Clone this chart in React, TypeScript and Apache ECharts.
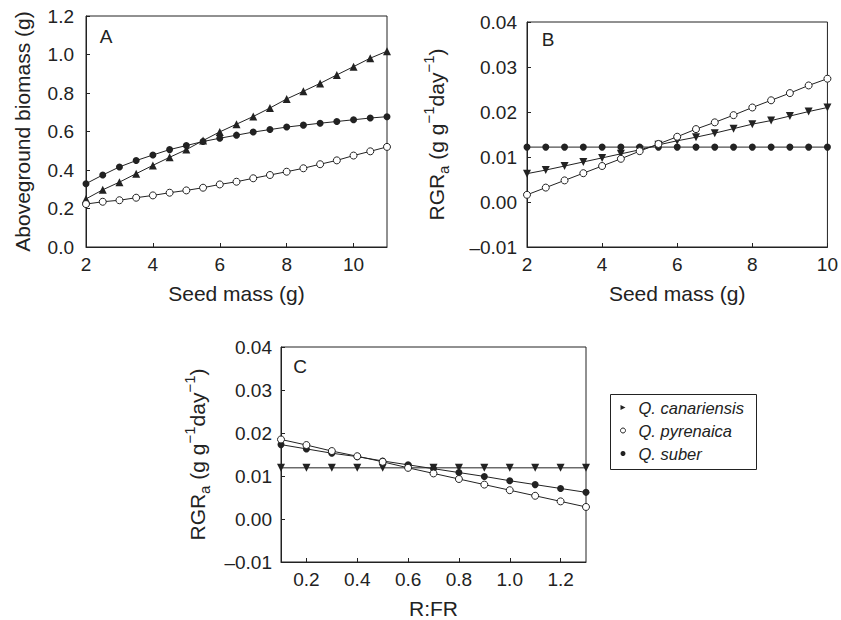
import React, { useEffect, useRef } from "react";
import * as echarts from "echarts";

// Panel A: aboveground biomass vs seed mass
const seedMassA = [2, 2.5, 3, 3.5, 4, 4.5, 5, 5.5, 6, 6.5, 7, 7.5, 8, 8.5, 9, 9.5, 10, 10.5, 11];
const biomassCanariensis = [0.25, 0.297, 0.337, 0.381, 0.424, 0.466, 0.506, 0.553, 0.598, 0.638, 0.678, 0.722, 0.769, 0.809, 0.85, 0.894, 0.937, 0.981, 1.017];
const biomassSuber = [0.329, 0.374, 0.416, 0.449, 0.478, 0.506, 0.527, 0.548, 0.565, 0.581, 0.597, 0.61, 0.623, 0.633, 0.643, 0.652, 0.661, 0.67, 0.677];
const biomassPyrenaica = [0.223, 0.235, 0.243, 0.256, 0.268, 0.282, 0.294, 0.308, 0.325, 0.339, 0.357, 0.374, 0.391, 0.409, 0.43, 0.45, 0.475, 0.497, 0.52];

// Panel B: RGRa vs seed mass
const seedMassB = [2, 2.5, 3, 3.5, 4, 4.5, 5, 5.5, 6, 6.5, 7, 7.5, 8, 8.5, 9, 9.5, 10];
const rgrSeedCanariensis = [0.0063, 0.0071, 0.008, 0.0089, 0.0098, 0.0107, 0.0116, 0.0127, 0.0136, 0.0144, 0.0153, 0.0163, 0.0173, 0.0181, 0.0191, 0.0201, 0.021];
const rgrSeedPyrenaica = [0.0016, 0.0032, 0.0048, 0.0064, 0.008, 0.0096, 0.0113, 0.0129, 0.0145, 0.0162, 0.0177, 0.0193, 0.021, 0.0226, 0.0242, 0.0259, 0.0274];
const rgrSeedSuber = [0.0122, 0.0122, 0.0122, 0.0122, 0.0122, 0.0122, 0.0122, 0.0122, 0.0122, 0.0122, 0.0122, 0.0122, 0.0122, 0.0122, 0.0122, 0.0122, 0.0122];

// Panel C: RGRa vs R:FR
const rfr = [0.1, 0.2, 0.3, 0.4, 0.5, 0.6, 0.7, 0.8, 0.9, 1.0, 1.1, 1.2, 1.3];
const rgrRfrCanariensis = [0.0119, 0.0119, 0.0119, 0.0119, 0.0119, 0.0119, 0.0119, 0.0119, 0.0119, 0.0119, 0.0119, 0.0119, 0.0119];
const rgrRfrSuber = [0.0173, 0.0163, 0.0153, 0.0145, 0.0135, 0.0126, 0.0117, 0.0108, 0.0099, 0.0089, 0.008, 0.0071, 0.0062];
const rgrRfrPyrenaica = [0.0185, 0.0172, 0.0158, 0.0146, 0.0133, 0.0119, 0.0106, 0.0093, 0.008, 0.0067, 0.0054, 0.0041, 0.0028];

const rfrTicks = [0.2, 0.4, 0.6, 0.8, 1.0, 1.2];
const speciesNames = ["Q. canariensis", "Q. pyrenaica", "Q. suber"];

const FONT = '"Liberation Sans", Arial, Helvetica, sans-serif';
const INK = "#222";

const zip = (xs: number[], ys: number[]) => xs.map((x, i) => [x, ys[i]]);

const fmtRgr = (v: number) => {
  if (Math.abs(v) < 1e-9) return "0.00";
  return v < 0 ? "\u2013" + (-v).toFixed(2) : v.toFixed(2);
};

const rgrName = "{n|RGR}{sub|a}{n| (g g}{sup|\u22121}{n|day}{sup|\u22121}{n|)}";
const rgrRich = {
  n: { fontSize: 21, lineHeight: 30, fontFamily: FONT, color: INK, verticalAlign: "middle" },
  sub: { fontSize: 15, lineHeight: 17, fontFamily: FONT, color: INK, verticalAlign: "bottom" },
  sup: { fontSize: 15, lineHeight: 17, fontFamily: FONT, color: INK, verticalAlign: "top" },
};

function xAxisBase(gridIndex: number) {
  return {
    type: "value",
    gridIndex,
    nameLocation: "middle",
    nameGap: 36,
    nameTextStyle: { fontSize: 21, fontFamily: FONT, color: INK },
    axisLine: { show: true, onZero: false, lineStyle: { color: INK, width: 1 } },
    axisTick: { show: true, inside: true, length: 4, lineStyle: { color: INK } },
    axisLabel: { fontSize: 19, fontFamily: FONT, color: INK, margin: 8 },
    splitLine: { show: false },
  };
}

function yAxisBase(gridIndex: number) {
  return {
    type: "value",
    gridIndex,
    nameLocation: "middle",
    nameRotate: 90,
    nameTextStyle: { fontSize: 21, fontFamily: FONT, color: INK },
    axisLine: { show: true, onZero: false, lineStyle: { color: INK, width: 1 } },
    axisTick: { show: true, inside: true, length: 4, lineStyle: { color: INK } },
    axisLabel: { fontSize: 19, fontFamily: FONT, color: INK, margin: 11 },
    splitLine: { show: false },
  };
}

const filledCircle = { symbol: "circle", symbolSize: 7, itemStyle: { color: INK, borderColor: INK, borderWidth: 0 } };
const openCircle = { symbol: "circle", symbolSize: 7, itemStyle: { color: "#fff", borderColor: INK, borderWidth: 1 } };
const upTriangle = { symbol: "triangle", symbolSize: 8, itemStyle: { color: INK } };
const downTriangle = { symbol: "triangle", symbolRotate: 180, symbolSize: 8, itemStyle: { color: INK } };

function lineSeries(name: string, xi: number, data: number[][], marker: any) {
  return {
    type: "line",
    name,
    xAxisIndex: xi,
    yAxisIndex: xi,
    data,
    showAllSymbol: true,
    clip: false,
    lineStyle: { color: INK, width: 1 },
    ...marker,
  };
}

export default function App() {
  const ref = useRef<HTMLDivElement>(null);
  useEffect(() => {
    document.body.style.margin = "0";
    if (!ref.current) return;
    const chart = echarts.init(ref.current, null, { renderer: "svg" });
    const option: any = {
      animation: false,
      backgroundColor: "#fff",
      textStyle: { fontFamily: FONT },
      grid: [
        { left: 86, top: 16, width: 301, height: 231, show: true, borderColor: INK, borderWidth: 1, backgroundColor: "transparent" },
        { left: 527, top: 22, width: 302, height: 225, show: true, borderColor: INK, borderWidth: 1, backgroundColor: "transparent" },
        { left: 281, top: 347, width: 305, height: 218, show: true, borderColor: INK, borderWidth: 1, backgroundColor: "transparent" },
      ],
      xAxis: [
        { ...xAxisBase(0), name: "Seed mass (g)", min: 2, max: 11, interval: 2,
          axisLabel: { ...xAxisBase(0).axisLabel, showMaxLabel: false } },
        { ...xAxisBase(1), name: "Seed mass (g)", min: 2, max: 10, interval: 2 },
        { ...xAxisBase(2), name: "R:FR", min: 0.1, max: 1.3,
          axisTick: { ...xAxisBase(2).axisTick, customValues: rfrTicks },
          axisLabel: { ...xAxisBase(2).axisLabel, customValues: rfrTicks, formatter: (v: number) => v.toFixed(1) } },
      ],
      yAxis: [
        { ...yAxisBase(0), name: "Aboveground biomass (g)", nameGap: 53, min: 0, max: 1.2, interval: 0.2,
          axisLabel: { ...yAxisBase(0).axisLabel, margin: 12, formatter: (v: number) => v.toFixed(1) } },
        { ...yAxisBase(1), name: rgrName, nameGap: 76, min: -0.01, max: 0.04, interval: 0.01,
          nameTextStyle: { fontSize: 21, fontFamily: FONT, color: INK, rich: rgrRich },
          axisLabel: { ...yAxisBase(1).axisLabel, margin: 10, formatter: fmtRgr } },
        { ...yAxisBase(2), name: rgrName, nameGap: 69, min: -0.01, max: 0.04, interval: 0.01,
          nameTextStyle: { fontSize: 21, fontFamily: FONT, color: INK, rich: rgrRich },
          axisLabel: { ...yAxisBase(2).axisLabel, margin: 9, formatter: fmtRgr } },
      ],
      legend: {
        show: true,
        orient: "vertical",
        left: 620,
        top: 399,
        padding: 0,
        itemGap: 6,
        itemWidth: 5,
        itemHeight: 5,
        selectedMode: false,
        textStyle: { fontSize: 16.5, fontStyle: "italic", fontFamily: FONT, color: INK, lineHeight: 17, padding: [0, 0, 0, 8] },
        data: [
          { name: speciesNames[0], icon: "path://M0,0L8,4L0,8Z", itemStyle: { color: INK, borderWidth: 0 } },
          { name: speciesNames[1], icon: "circle", itemStyle: { color: "#fff", borderColor: INK, borderWidth: 1 } },
          { name: speciesNames[2], icon: "circle", itemStyle: { color: INK, borderWidth: 0 } },
        ],
      },
      graphic: [
        { type: "rect", shape: { x: 610.5, y: 394.5, width: 146, height: 75 }, style: { fill: "none", stroke: INK, lineWidth: 1 }, silent: true },
        { type: "text", x: 106, y: 36, style: { text: "A", font: `19px ${FONT}`, fill: INK, textAlign: "center", textVerticalAlign: "middle" } },
        { type: "text", x: 548, y: 39, style: { text: "B", font: `19px ${FONT}`, fill: INK, textAlign: "center", textVerticalAlign: "middle" } },
        { type: "text", x: 300, y: 366, style: { text: "C", font: `19px ${FONT}`, fill: INK, textAlign: "center", textVerticalAlign: "middle" } },
      ],
      series: [
        lineSeries(speciesNames[0], 0, zip(seedMassA, biomassCanariensis), upTriangle),
        lineSeries(speciesNames[2], 0, zip(seedMassA, biomassSuber), filledCircle),
        lineSeries(speciesNames[1], 0, zip(seedMassA, biomassPyrenaica), openCircle),

        lineSeries(speciesNames[2], 1, zip(seedMassB, rgrSeedSuber), filledCircle),
        lineSeries(speciesNames[0], 1, zip(seedMassB, rgrSeedCanariensis), downTriangle),
        lineSeries(speciesNames[1], 1, zip(seedMassB, rgrSeedPyrenaica), openCircle),

        lineSeries(speciesNames[0], 2, zip(rfr, rgrRfrCanariensis), downTriangle),
        lineSeries(speciesNames[2], 2, zip(rfr, rgrRfrSuber), filledCircle),
        lineSeries(speciesNames[1], 2, zip(rfr, rgrRfrPyrenaica), openCircle),
      ],
    };
    chart.setOption(option);
    return () => chart.dispose();
  }, []);
  return <div ref={ref} style={{ width: 841, height: 620 }} />;
}
